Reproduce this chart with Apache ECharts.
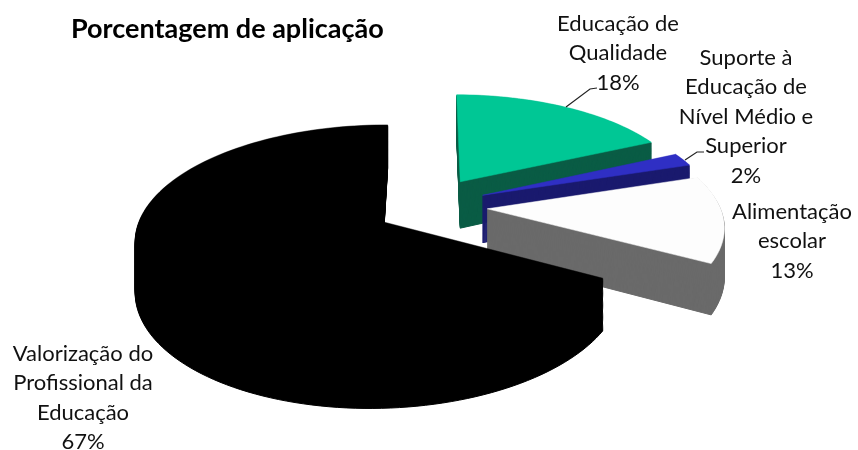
<!DOCTYPE html>
<html>
<head>
<meta charset="utf-8">
<style>html,body{margin:0;padding:0;background:#fff}#main{width:858px;height:450px}</style>
<script src="https://cdn.jsdelivr.net/npm/echarts@6/dist/echarts.min.js"></script>
</head>
<body>
<div id="main"></div>
<script>
var categories = ['Educação de\nQualidade', 'Suporte à\nEducação de\nNível Médio e\nSuperior', 'Alimentação\nescolar', 'Valorização do\nProfissional da\nEducação'];
var values = [18, 2, 13, 67];
var topColors = ['#00c795', '#2f2fc4', '#fdfdfd', '#000000'];
var wallColors = ['#0a5c45', '#1a1a6e', '#6a6a6a', '#000000'];
var labelAnchors = [[618, 9], [746, 43], [792, 197], [83, 339]];

// fake 3d pie: the projection of the excel chart
var cx = 431, cy = 206, rx = 235, ry = 106;
var explodeX = 0.24, explodeY = 0.28, persp = 7, lean = 0.05, depth = 48;

var total = values.reduce(function (a, b) { return a + b; }, 0);
function project(px, py, z) {
    var s = persp / (persp - py + lean * px);
    return [cx + rx * px * s, cy + ry * py * s + z * depth * s];
}
function slicePoints(i, z) {
    var start = 0;
    for (var k = 0; k < i; k++) start += values[k];
    var a0 = start / total * Math.PI * 2;
    var a1 = (start + values[i]) / total * Math.PI * 2;
    var mid = (a0 + a1) / 2;
    var ox = explodeX * Math.sin(mid), oy = -explodeY * Math.cos(mid);
    var pts = [project(ox, oy, z)];
    var n = Math.max(6, Math.round(values[i] * 2));
    for (var j = 0; j <= n; j++) {
        var a = a0 + (a1 - a0) * j / n;
        pts.push(project(ox + Math.sin(a), oy - Math.cos(a), z));
    }
    return pts;
}
function renderSlice(params, api) {
    var i = params.dataIndex;
    var children = [];
    // the wall is a stack of slices, bottom first, the top face last
    for (var l = depth; l >= 0; l--) {
        var color = l == 0 ? topColors[i] : wallColors[i];
        children.push({
            type: 'polygon',
            shape: { points: slicePoints(i, l / depth) },
            style: { fill: color, stroke: color, lineWidth: l == 0 ? 0.5 : 1 }
        });
    }
    return { type: 'group', children: children };
}
var labelFont = { fontFamily: 'Lato', fontSize: 22, lineHeight: 29.5, fill: '#111', align: 'center', verticalAlign: 'top' };
var labels = categories.map(function (name, i) {
    return {
        type: 'text', x: labelAnchors[i][0], y: labelAnchors[i][1],
        style: Object.assign({ text: name + '\n' + values[i] + '%' }, labelFont)
    };
});
var chart = echarts.init(document.getElementById('main'));
chart.setOption({
    animation: false,
    title: {
        text: 'Porcentagem de aplicação', left: 66, top: 11,
        textStyle: { fontFamily: 'Lato', fontSize: 27, fontWeight: 'bold', color: '#000' }
    },
    graphic: labels.concat([
        { type: 'polyline', shape: { points: [[566, 107], [590, 89], [597, 88]] }, style: { stroke: '#222', lineWidth: 1.2, fill: null }, z: 10 },
        { type: 'polyline', shape: { points: [[685, 160], [697, 152], [704, 152]] }, style: { stroke: '#222', lineWidth: 1.2, fill: null }, z: 10 }
    ]),
    series: [{
        type: 'custom',
        coordinateSystem: 'none',
        silent: true,
        renderItem: renderSlice,
        data: values
    }]
});
</script>
</body>
</html>
